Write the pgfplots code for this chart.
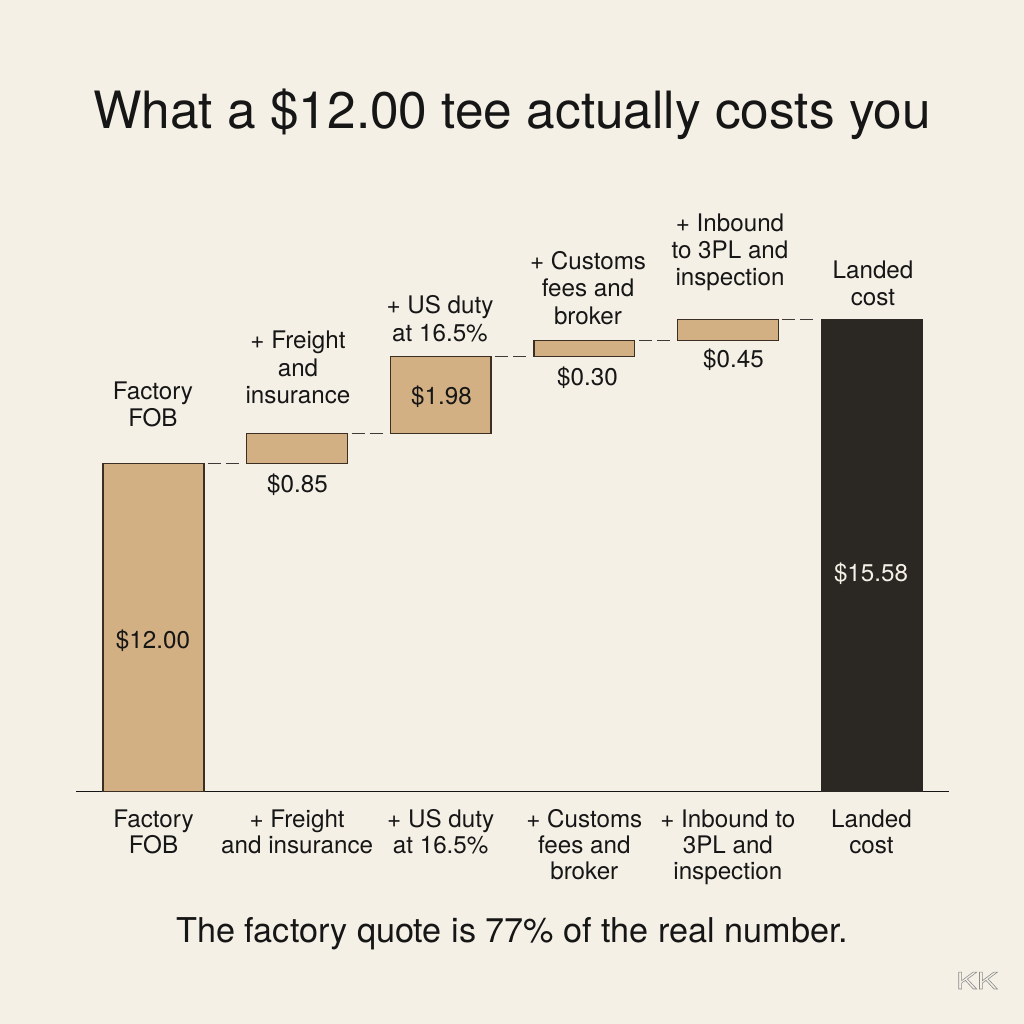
\documentclass[border=0pt]{standalone}
\usepackage{pgfplots}
\pgfplotsset{compat=1.18}
\usepackage{fontspec}
\setmainfont{TeX Gyre Heros}
\definecolor{bg}{HTML}{F4F0E6}
\definecolor{tanbar}{HTML}{D3B083}
\definecolor{edge}{HTML}{3A2F22}
\definecolor{dark}{HTML}{2B2824}
\definecolor{ink}{HTML}{161616}
\definecolor{dashc}{HTML}{3F3A35}
\newcommand{\lab}[3]{\node[anchor=base,inner sep=0pt,text=ink,font=\fontsize{12.1}{13}\selectfont] at (#1,1024-#2) {#3};}
\begin{document}
\begin{tikzpicture}[x=0.5pt,y=0.5pt]
\fill[bg] (0,0) rectangle (1024,1024);
\useasboundingbox (0,0) rectangle (1024,1024);
\pgfplotsset{wf/.style={
  scale only axis, width=436.5pt, height=236pt,
  at={(38pt,116.25pt)}, anchor=south west,
  xmin=-0.54, xmax=5.54, ymin=0, ymax=17.28,
  clip=false,
},
conn/.style={sharp plot, no marks, dashc, line width=0.75pt, dash pattern=on 6.5pt off 2.5pt, shorten <=2pt, shorten >=2pt}}
\begin{axis}[wf, ybar stacked, bar width=0.703,
  axis y line=none, axis x line*=bottom,
  x axis line style={-, draw=ink, line width=0.6pt},
  xtick={0,1,2,3,4,5}, major tick length=0pt, ytick=\empty,
  xticklabels={{Factory\\FOB},{+ Freight\\and insurance},{+ US duty\\at 16.5\%},{+ Customs\\fees and\\broker},{+ Inbound to\\3PL and\\inspection},{Landed\\cost}},
  xticklabel style={font=\fontsize{12.1}{13}\selectfont, text=ink, align=center, anchor=north, inner sep=0pt, yshift=-9pt}]
\addplot[draw=none, fill=none] coordinates {(0,0) (1,12) (2,13.10) (3,15.92) (4,16.51)};
\addplot[fill=tanbar, draw=edge, line width=0.7pt] coordinates {(0,12) (1,1.10) (2,2.82) (3,0.59) (4,0.77)};
\end{axis}
\begin{axis}[wf, hide axis]
\addplot[ybar, bar width=0.703, bar shift=0pt, fill=dark, draw=dark] coordinates {(5,17.28)};
\addplot[conn] coordinates {(0.3515,12) (0.6485,12)};
\addplot[conn] coordinates {(1.3515,13.10) (1.6485,13.10)};
\addplot[conn] coordinates {(2.3515,15.92) (2.6485,15.92)};
\addplot[conn] coordinates {(3.3515,16.51) (3.6485,16.51)};
\addplot[conn] coordinates {(4.3515,17.28) (4.6485,17.28)};
\end{axis}
% title and footer
\node[anchor=base,inner sep=0pt,text=ink,font=\fontsize{25.7}{30}\selectfont] at (512,1024-129) {What a \$12.00 tee actually costs you};
\node[anchor=base,inner sep=0pt,text=ink,font=\fontsize{17.1}{20}\selectfont] at (512,1024-943) {The factory quote is 77\% of the real number.};
% labels above bars
\lab{153}{400}{Factory}\lab{153}{427}{FOB}
\lab{298}{349}{+ Freight}\lab{298}{377}{and}\lab{298}{404}{insurance}
\lab{440}{314}{+ US duty}\lab{440}{342}{at 16.5\%}
\lab{588}{270}{+ Customs}\lab{588}{297}{fees and}\lab{588}{325}{broker}
\lab{730}{232}{+ Inbound}\lab{730}{259}{to 3PL and}\lab{730}{286}{inspection}
\lab{873}{279}{Landed}\lab{873}{306}{cost}
% value labels
\lab{153}{648.5}{\$12.00}
\lab{297.5}{493}{\$0.85}
\lab{441.5}{405}{\$1.98}
\lab{587.5}{386}{\$0.30}
\lab{733.5}{368}{\$0.45}
\node[anchor=base,inner sep=0pt,text=bg,font=\fontsize{12.1}{13}\selectfont] at (871,1024-581.5) {\$15.58};
\node[anchor=base,inner sep=0pt,text=black!45,font=\fontsize{11.5}{13}\selectfont,xscale=1.35] at (977,1024-989) {\special{pdf:literal 1 Tr 0.25 w}KK};
\end{tikzpicture}
\end{document}
